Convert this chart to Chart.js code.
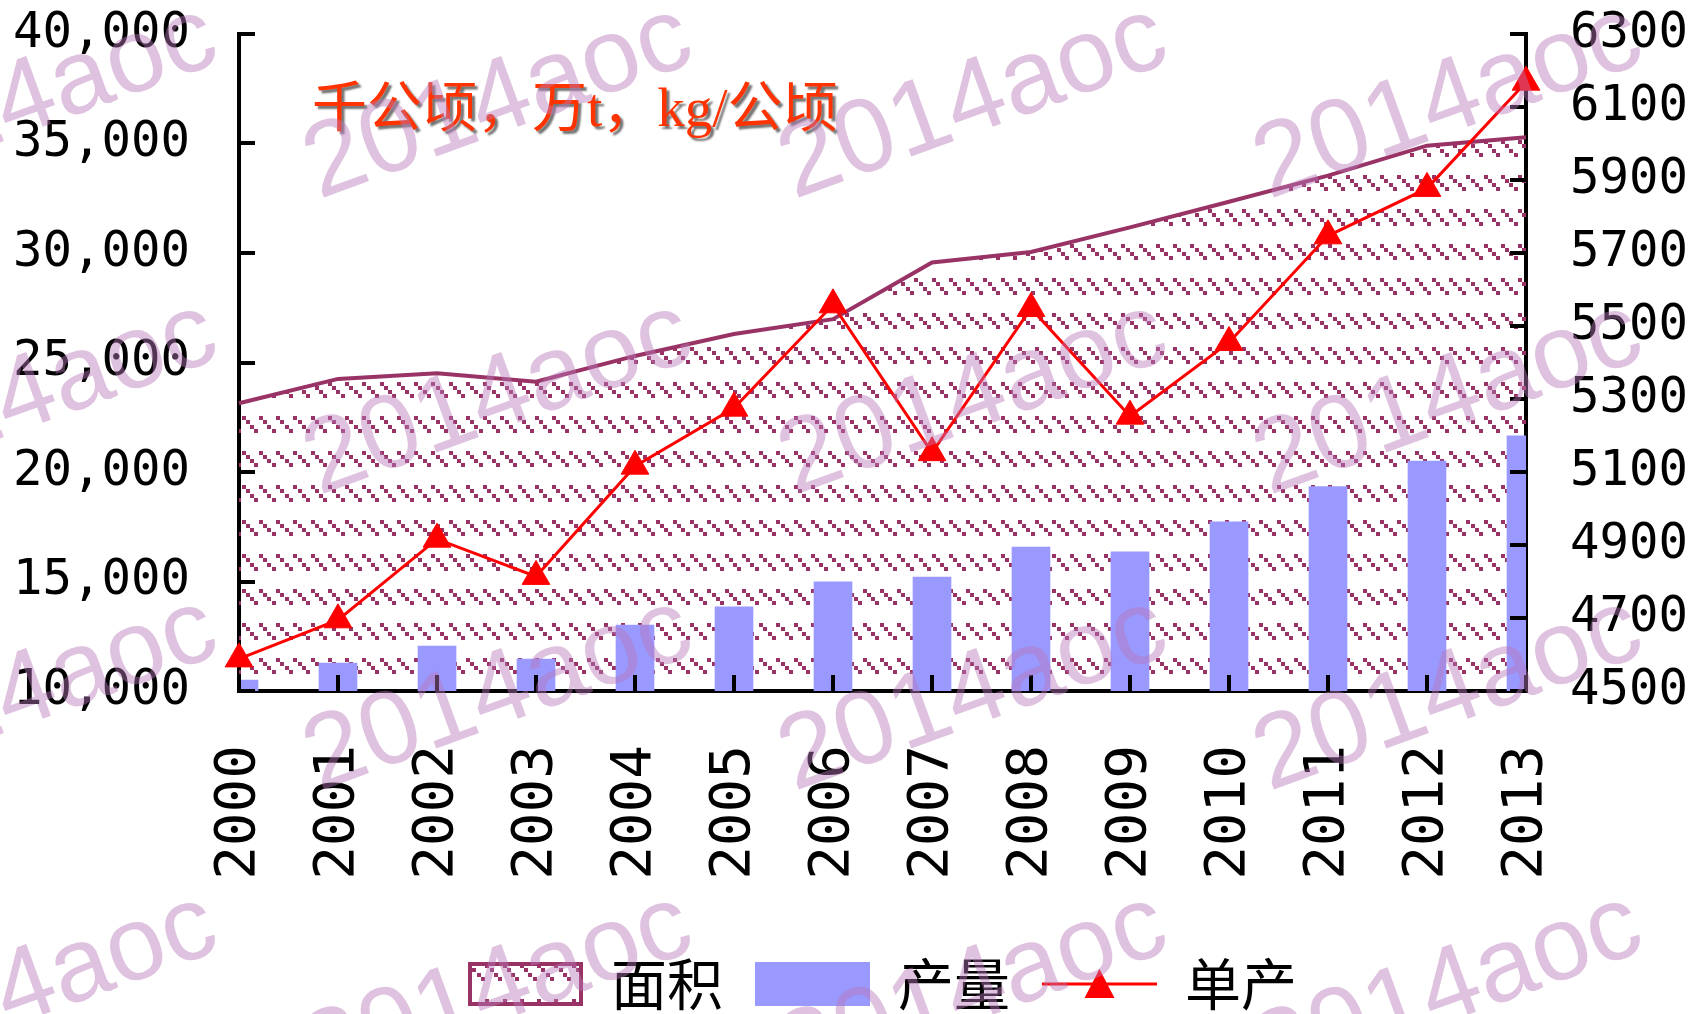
<!DOCTYPE html>
<html>
<head>
<meta charset="utf-8">
<title>面积 产量 单产 2000-2013</title>
<script src="https://cdn.jsdelivr.net/npm/chart.js@4.4.1/dist/chart.umd.min.js"></script>
<style>
  html, body { margin: 0; padding: 0; background: #fff; }
  #chart { display: block; }
</style>
</head>
<body>
<canvas id="chart" width="1690" height="1014"></canvas>
<script>
// --- data ---
const years = ['2000', '2001', '2002', '2003', '2004', '2005', '2006',
               '2007', '2008', '2009', '2010', '2011', '2012', '2013'];
// 面积 (千公顷), left axis
const areaValues = [23140, 24250, 24510, 24120, 25300, 26300, 26980,
                    29570, 30050, 31170, 32340, 33530, 34900, 35290];
// 产量 (万t), left axis
const outputValues = [10500, 11280, 12050, 11460, 13010, 13840, 14980,
                      15200, 16570, 16350, 17720, 19330, 20500, 21650];
// 单产 (kg/公顷), right axis
const yieldValues = [4588, 4695, 4916, 4814, 5116, 5275, 5558,
                     5153, 5548, 5253, 5455, 5747, 5877, 6168];

const seriesNames = ['面积', '产量', '单产'];
const unitNote = '千公顷，万t，kg/公顷';
const leftRange = [10000, 40000];
const leftStep = 5000;
const rightRange = [4500, 6300];
const rightStep = 200;

// --- colours ---
const AREA_LINE = '#993366';
const BAR_FILL = '#9999FF';
const LINE_RED = '#FF0000';

// excel "dashed downward diagonal" hatch, blown up to the picture's scale
function makeHatch(target) {
  const c = document.createElement('canvas');
  c.width = 69; c.height = 69;
  const g = c.getContext('2d');
  const s = 69 / 16;
  g.fillStyle = AREA_LINE;
  for (let row = 0; row < 2; row++) {
    for (let col = 0; col < 4; col++) {
      for (let k = 0; k < 4; k++) {
        g.fillRect(Math.round((col * 4 + k) * s), Math.round((row * 8 + k) * s + 2), 4, 4);
      }
    }
  }
  return target.createPattern(c, 'repeat');
}

// little canvases used as legend symbols
function legendIcon(draw) {
  const c = document.createElement('canvas');
  c.width = 115; c.height = 44;
  draw(c.getContext('2d'), c.width, c.height);
  return c;
}

const canvas = document.getElementById('chart');
const ctx = canvas.getContext('2d');
const hatch = makeHatch(ctx);

const icons = [
  legendIcon((g, w, h) => {
    g.fillStyle = makeHatch(g);
    g.fillRect(0, 0, w, h);
    g.strokeStyle = AREA_LINE;
    g.lineWidth = 4;
    g.strokeRect(2, 2, w - 4, h - 4);
  }),
  legendIcon((g, w, h) => {
    g.fillStyle = BAR_FILL;
    g.fillRect(0, 0, w, h);
  }),
  legendIcon((g, w, h) => {
    g.strokeStyle = LINE_RED;
    g.lineWidth = 3;
    g.beginPath(); g.moveTo(0, h / 2); g.lineTo(w, h / 2); g.stroke();
    g.fillStyle = LINE_RED;
    g.beginPath();
    g.moveTo(w / 2, h / 2 - 15);
    g.lineTo(w / 2 + 15, h / 2 + 14);
    g.lineTo(w / 2 - 15, h / 2 + 14);
    g.closePath(); g.fill();
  })
];

// unit note inside the plot + the site's watermark on top of everything
const overlayPlugin = {
  id: 'overlay',
  afterDraw(chart) {
    const c = chart.ctx;
    const area = chart.chartArea;
    c.save();
    c.font = '55px "Liberation Serif", "Noto Sans CJK SC"';
    c.textBaseline = 'middle';
    c.shadowColor = 'rgba(0,0,0,0.55)';
    c.shadowOffsetX = 3;
    c.shadowOffsetY = 3;
    c.shadowBlur = 2;
    c.fillStyle = '#FF3300';
    c.fillText(unitNote, area.left + 73, area.top + 78);
    c.restore();

    c.save();
    c.font = '105px "Liberation Sans"';
    c.fillStyle = 'rgba(185,120,185,0.45)';
    for (const y0 of [172, 468, 764, 1060]) {
      for (const x0 of [-166, 309, 784, 1259]) {
        c.save();
        c.translate(x0, y0);
        c.rotate(-20 * Math.PI / 180);
        c.fillText('2014aoc', 0, 0);
        c.restore();
      }
    }
    c.restore();
  }
};

const tickFont = { family: '"DejaVu Sans Mono"', size: 49 };

// vertical axes: fixed width, and don't let the big label padding push the plot down
function fixY(width) {
  return s => {
    s.width = width;
    s.paddingTop = 30;
    s.paddingBottom = 30;
  };
}

const chart = new Chart(ctx, {
  type: 'bar',
  data: {
    labels: years,
    datasets: [
      {
        type: 'line', label: seriesNames[0], data: areaValues, yAxisID: 'y', order: 3,
        fill: 'start', backgroundColor: hatch, borderColor: AREA_LINE, borderWidth: 4,
        pointRadius: 0, tension: 0
      },
      {
        type: 'bar', label: seriesNames[1], data: outputValues, yAxisID: 'y', order: 2,
        backgroundColor: BAR_FILL, barThickness: 38
      },
      {
        type: 'line', label: seriesNames[2], data: yieldValues, yAxisID: 'y1', order: 1,
        borderColor: LINE_RED, borderWidth: 3, fill: false, tension: 0, clip: false,
        pointStyle: 'triangle', pointRadius: 16, pointBackgroundColor: LINE_RED,
        pointBorderColor: LINE_RED, pointBorderWidth: 1
      }
    ]
  },
  options: {
    responsive: false,
    animation: false,
    layout: { padding: { top: 34, left: 0, right: 0, bottom: -8 } },
    plugins: {
      tooltip: { enabled: false },
      legend: {
        position: 'bottom',
        fullSize: false,
        labels: {
          usePointStyle: true,
          pointStyleWidth: 115,
          padding: 32,
          color: '#000',
          font: { family: '"Noto Sans CJK SC"', size: 56 },
          generateLabels: chart => chart.data.datasets.map((ds, i) => ({
            text: ds.label, pointStyle: icons[i], datasetIndex: i,
            hidden: false, lineWidth: 0, fontColor: '#000'
          }))
        }
      }
    },
    scales: {
      x: {
        offset: false,
        grid: { offset: false, drawOnChartArea: false, drawTicks: true, tickLength: -16,
                lineWidth: 4, color: '#000', z: 1 },
        border: { color: '#000', width: 4 },
        ticks: { minRotation: 90, maxRotation: 90, autoSkip: false, padding: 70,
                 color: '#000', font: { family: '"DejaVu Sans Mono"', size: 56 } },
        afterFit: s => { s.height = 233; }
      },
      y: {
        position: 'left',
        min: leftRange[0], max: leftRange[1],
        grid: { drawOnChartArea: false, drawTicks: true, tickLength: -16,
                lineWidth: 4, color: '#000', z: 1 },
        border: { color: '#000', width: 4 },
        ticks: { stepSize: leftStep, padding: 65, color: '#000', font: tickFont,
                 callback: v => v.toLocaleString('en-US') },
        afterFit: fixY(239)
      },
      y1: {
        position: 'right',
        min: rightRange[0], max: rightRange[1],
        grid: { drawOnChartArea: false, drawTicks: true, tickLength: -16,
                lineWidth: 4, color: '#000', z: 1 },
        border: { color: '#000', width: 4 },
        ticks: { stepSize: rightStep, padding: 60, color: '#000', font: tickFont,
                 callback: v => String(v) },
        afterFit: fixY(164)
      }
    }
  },
  plugins: [overlayPlugin]
});

// tick marks sit above the bars (grid z:1), but the axis line reads its position
// from the grid pass, so paint once more now that it is known
chart.draw();
</script>
</body>
</html>
